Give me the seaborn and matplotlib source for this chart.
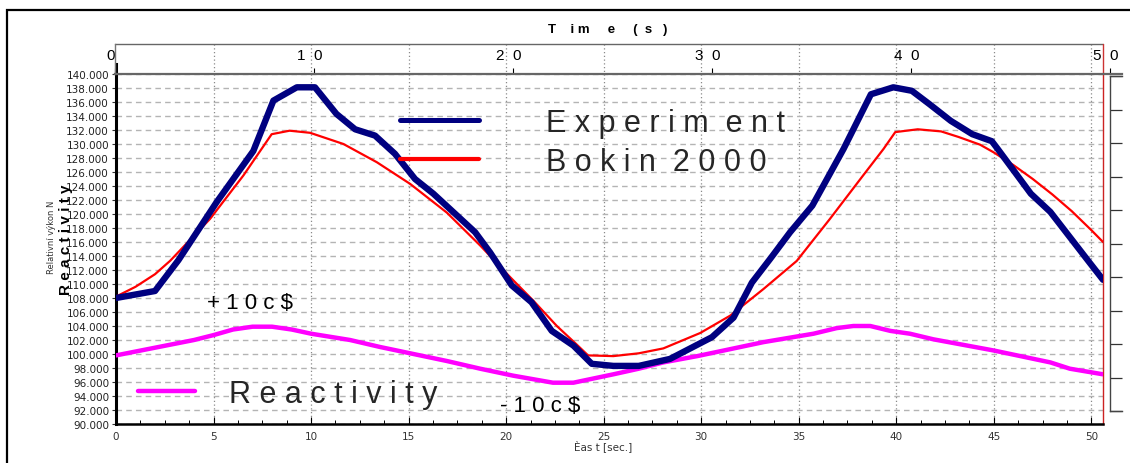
import matplotlib
matplotlib.use("Agg")
import matplotlib.pyplot as plt
import matplotlib.transforms as mtrans
import seaborn as sns
import pandas as pd
import numpy as np
from matplotlib.lines import Line2D
from matplotlib.patches import Rectangle
from matplotlib.ticker import MultipleLocator
from matplotlib.font_manager import FontProperties

# ---------------- data ----------------
exp_t = [0, 2.0, 3.2, 5.16, 7.04, 8.07, 9.27, 10.2, 11.3, 12.26, 13.28, 14.3, 15.33, 16.27,
         18.41, 19.18, 20.29, 21.3, 22.34, 23.45, 24.39, 25.5, 26.8, 28.4, 30.55, 31.66,
         32.6, 33.54, 34.56, 35.7, 37.3, 38.7, 39.85, 40.8, 41.7, 42.8, 43.9, 44.9, 45.2,
         46.9, 47.9, 49.9, 50.6]
exp_v = [108.0, 109.0, 113.4, 121.7, 129.0, 136.2, 138.1, 138.1, 134.3, 132.1, 131.2, 128.6,
         125.0, 122.9, 117.4, 114.5, 109.8, 107.4, 103.3, 101.2, 98.6, 98.3, 98.3, 99.3,
         102.4, 105.2, 110.2, 113.6, 117.4, 121.2, 129.3, 137.1, 138.1, 137.6, 135.7, 133.3,
         131.4, 130.4, 129.3, 122.9, 120.3, 113.1, 110.6]

bok_t = [0, 1, 2, 2.77, 4.82, 6.53, 7.98, 8.9, 9.95, 11.66, 13.37, 15.08, 16.96, 18.67, 20.2,
         21.4, 22.6, 23.6, 24.2, 25.5, 26.8, 28.06, 29.95, 31.5, 33.2, 34.9, 36.6, 38.3,
         39.35, 39.95, 41.1, 42.3, 43.2, 44.3, 45.0, 46.0, 47.0, 48.0, 49.0, 50.0, 50.6]
bok_v = [108.2, 109.6, 111.4, 113.3, 119.3, 125.5, 131.4, 131.9, 131.6, 130.0, 127.4, 124.3,
         120.2, 115.5, 111.0, 107.6, 104.0, 101.4, 99.8, 99.7, 100.1, 100.8, 103.0, 105.5,
         109.3, 113.3, 119.3, 125.5, 129.3, 131.7, 132.1, 131.8, 131.0, 129.9, 128.8, 127.0,
         125.0, 122.8, 120.4, 117.7, 116.0]

rea_t = [0, 2, 4, 5, 6, 7, 8, 9, 10, 12, 13.54, 15.25, 16.96, 18.67, 20.37, 22.4, 23.45,
         25.5, 26.8, 28.06, 29.8, 31.5, 33.2, 35.76, 36.95, 37.8, 38.67, 39.7, 40.7, 41.9,
         45.0, 47.9, 48.9, 50.6]
rea_v = [99.8, 100.9, 102.0, 102.7, 103.5, 103.9, 103.9, 103.5, 102.9, 102.0, 101.0, 100.0,
         99.0, 97.9, 96.9, 95.9, 95.9, 97.1, 97.9, 98.8, 99.7, 100.7, 101.7, 102.9, 103.7,
         104.0, 104.0, 103.3, 102.9, 102.1, 100.5, 98.8, 97.9, 97.1]

y_ticks = list(range(90, 141, 2))
x_ticks = list(range(0, 51, 5))
top_ticks = [0, 10, 20, 30, 40, 50]
top_labels = ["0", "1  0", "2  0", "3  0", "4  0", "5  0"]
right_ticks = list(range(0, 11))

leg_labels = ["E x p e r i m  e n t", "B o k i n  2 0 0 0"]
rea_label = "R e a c t i v i t y"

# ---------------- style ----------------
W, H = 1130, 464
sns.set_style("white")
plt.rcParams['font.family'] = ['Liberation Sans', 'DejaVu Sans']

fig = plt.figure(figsize=(W / 100, H / 100), dpi=100)


def rect(x0, y0, x1, y1):
    return [x0 / W, 1 - y1 / H, (x1 - x0) / W, (y1 - y0) / H]


ax = fig.add_axes(rect(116, 75, 1103, 425))
ax.set_xlim(0, 50.6)
ax.set_ylim(90, 140)

df_exp = pd.DataFrame({"t": exp_t, "v": exp_v})
df_bok = pd.DataFrame({"t": bok_t, "v": bok_v})
df_rea = pd.DataFrame({"t": rea_t, "v": rea_v})

sns.lineplot(data=df_bok, x="t", y="v", ax=ax, color="#ff0000", lw=1.6, sort=False,
             estimator=None, legend=False, zorder=3)
sns.lineplot(data=df_rea, x="t", y="v", ax=ax, color="#ff00ff", lw=3.2, sort=False,
             estimator=None, legend=False, zorder=3)
sns.lineplot(data=df_exp, x="t", y="v", ax=ax, color="#000080", lw=4.6, sort=False,
             estimator=None, legend=False, zorder=4)
for ln in ax.lines:
    ln.set_solid_joinstyle("round")

# grids
ax.set_axisbelow(True)
ax.set_yticks(y_ticks)
ax.set_yticklabels([f"{v:.3f}" for v in y_ticks])
ax.yaxis.grid(True, color="#b4b4b4", ls=(0, (4, 3)), lw=1.0)
ax.vlines(x_ticks[1:], 0, 380 / 350, transform=ax.get_xaxis_transform(), colors="#8a8a8a",
          linestyles=(0, (1, 2)), lw=0.9, clip_on=False, zorder=0.5)

ax.set_xticks(x_ticks)
ax.xaxis.set_minor_locator(MultipleLocator(1.25))
ax.tick_params(axis="x", which="major", bottom=True, direction="in", length=5, width=0.8,
               color="black", labelsize=7.5, labelcolor="#333333", pad=5,
               labelfontfamily="DejaVu Sans")
ax.tick_params(axis="x", which="minor", bottom=True, direction="in", length=3, width=0.7,
               color="black")
ax.tick_params(axis="y", left=True, direction="out", length=3, width=0.8, color="#333333",
               labelsize=7.5, labelcolor="#222222", pad=2, labelfontfamily="DejaVu Sans")

ax.spines["left"].set_color("black")
ax.spines["left"].set_linewidth(2.2)
ax.spines["left"].set_bounds(90, 90 + (425 - 65) / 7)
ax.spines["bottom"].set_color("black")
ax.spines["bottom"].set_linewidth(1.8)
ax.spines["top"].set_visible(False)
ax.spines["right"].set_color("#cc2222")
ax.spines["right"].set_linewidth(1.0)

ax.set_xlabel("Èas t [sec.]", fontsize=7.5, color="#333333", family="DejaVu Sans")
ax.xaxis.set_label_coords((603 - 116) / 987, (425 - 446) / 350)
ax.xaxis.label.set_va("center")

ax.set_ylabel("Relativní výkon N", fontsize=6, color="#333333", family="DejaVu Sans")
ax.yaxis.set_label_coords((52 - 116) / 987, (425 - 237) / 350)
ax.yaxis.label.set_va("center")

ax.text((66 - 116) / 987, (425 - 240) / 350, rea_label, rotation=90, ha="center",
        va="center", transform=ax.transAxes, fontsize=11, fontweight="bold",
        family="Liberation Sans", color="black")

ax.text(4.67, 107.4, "+ 1 0 c $", fontsize=16, ha="left", va="center", color="black")
ax.text(19.7, 92.6, "- 1 0 c $", fontsize=16, ha="left", va="center", color="black")

# legends
big = FontProperties(family="Liberation Sans", size=22)
h_exp = Line2D([], [], color="#000080", lw=3.6)
h_bok = Line2D([], [], color="#ff0000", lw=3.0)
h_rea = Line2D([], [], color="#ff00ff", lw=3.2)
leg1 = ax.legend([h_exp, h_bok], leg_labels, loc="upper left",
                 bbox_to_anchor=(400 / W, 1 - 109 / H), bbox_transform=fig.transFigure,
                 frameon=False, prop=big, handlelength=2.57, handletextpad=2.2,
                 labelspacing=0.3, borderpad=0, borderaxespad=0)
ax.add_artist(leg1)
ax.legend([h_rea], [rea_label], loc="upper left",
          bbox_to_anchor=(138 / W, 1 - 380 / H), bbox_transform=fig.transFigure,
          frameon=False, prop=big, handlelength=1.85, handletextpad=1.12,
          borderpad=0, borderaxespad=0)

# top time axis box
axt = fig.add_axes(rect(115, 45, 1122, 75))
axt.set_facecolor("none")
axt.set_xlim(0, 1007 / 19.9)
axt.set_ylim(0, 1)
axt.set_yticks([])
axt.set_xticks(top_ticks)
axt.set_xticklabels(top_labels)
axt.tick_params(axis="x", bottom=True, direction="in", length=4, width=0.8, color="black",
                pad=-19, labelsize=11, labelcolor="black")
off = mtrans.ScaledTranslation(-4 / 100, 0, fig.dpi_scale_trans)
for lbl in axt.get_xticklabels():
    lbl.set_transform(lbl.get_transform() + off)
for s in ["top", "right"]:
    axt.spines[s].set_visible(False)
axt.spines["bottom"].set_color("#666666")
axt.spines["bottom"].set_linewidth(1.6)
axt.spines["left"].set_color("#777777")
axt.spines["left"].set_linewidth(1.0)
fx = (1103 - 115) / 1007
axt.plot([0, fx], [1, 1], transform=axt.transAxes, color="#666666", lw=1.0, clip_on=False)
axt.plot([fx, fx], [0, 1], transform=axt.transAxes, color="#cc3333", lw=1.0, clip_on=False)

fig.text(608 / W, 1 - 30 / H, "T    i m     e     (  s   )", ha="center", va="center",
         fontsize=9.5, fontweight="bold", family="Liberation Sans", color="black")

# right secondary axis box
axr = fig.add_axes(rect(1110, 77, 1122, 412))
axr.set_facecolor("none")
axr.set_xlim(0, 1)
axr.set_ylim(0, 10)
axr.set_xticks([])
axr.set_yticks(right_ticks)
axr.set_yticklabels([])
axr.tick_params(axis="y", left=True, direction="in", length=12 * 0.72, width=0.9,
                color="#333333")
axr.spines["right"].set_visible(False)
for s in ["left", "top", "bottom"]:
    axr.spines[s].set_color("#444444")
    axr.spines[s].set_linewidth(1.0)

# outer frame
fig.add_artist(Rectangle((7 / W, -0.1), 2, 1 - 11 / H + 0.1, transform=fig.transFigure,
                         fill=False, ec="black", lw=1.6, clip_on=False))

fig.savefig("out.png", dpi=100)
